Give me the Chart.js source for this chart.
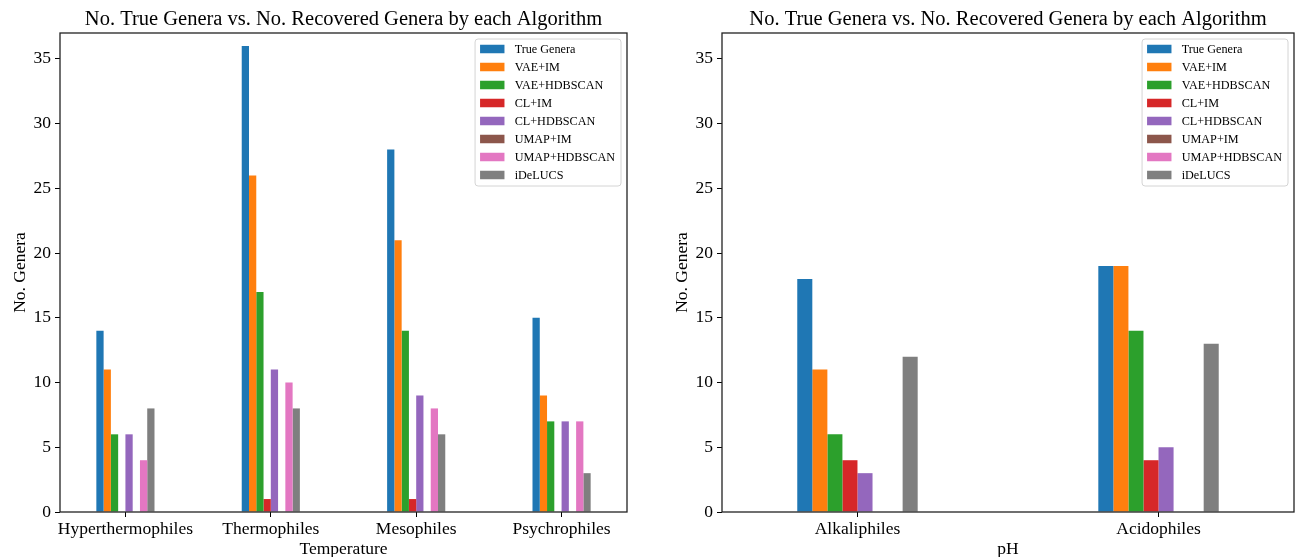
<!DOCTYPE html>
<html>
<head>
<meta charset="utf-8">
<script src="https://cdn.jsdelivr.net/npm/chart.js@4.4.1/dist/chart.umd.min.js"></script>
<style>
  html, body { margin: 0; padding: 0; background: #fff; overflow: hidden; }
  #wrap { position: relative; width: 1298px; height: 557px; }
  canvas { position: absolute; top: 0; }
  #tempChart { left: 0; }
  #phChart { left: 662px; }
</style>
</head>
<body>
<div id="wrap">
  <canvas id="tempChart" width="662" height="557"></canvas>
  <canvas id="phChart" width="636" height="557"></canvas>
</div>
<script>
// ---- data ----
const temperatureGroups = ['Hyperthermophiles', 'Thermophiles', 'Mesophiles', 'Psychrophiles'];
const phGroups = ['Alkaliphiles', 'Acidophiles'];
const methodNames = ['True Genera', 'VAE+IM', 'VAE+HDBSCAN', 'CL+IM', 'CL+HDBSCAN', 'UMAP+IM', 'UMAP+HDBSCAN', 'iDeLUCS'];
const genusTicks = [0, 5, 10, 15, 20, 25, 30, 35];

// genera counts per temperature group
const tempTrueGenera   = [14, 36, 28, 15];
const tempVaeIm        = [11, 26, 21, 9];
const tempVaeHdbscan   = [6, 17, 14, 7];
const tempClIm         = [0, 1, 1, 0];
const tempClHdbscan    = [6, 11, 9, 7];
const tempUmapIm       = [0, 0, 0, 0];
const tempUmapHdbscan  = [4, 10, 8, 7];
const tempIdelucs      = [8, 8, 6, 3];

// genera counts per pH group
const phTrueGenera     = [18, 19];
const phVaeIm          = [11, 19];
const phVaeHdbscan     = [6, 14];
const phClIm           = [4, 4];
const phClHdbscan      = [3, 5];
const phUmapIm         = [0, 0];
const phUmapHdbscan    = [0, 0];
const phIdelucs        = [12, 13];

// ---- styling ----
const palette = ['#1f77b4', '#ff7f0e', '#2ca02c', '#d62728', '#9467bd', '#8c564b', '#e377c2', '#7f7f7f'];
const FONT = '"Liberation Serif", "Times New Roman", serif';
Chart.defaults.font.family = FONT;
Chart.defaults.color = '#000';

// axes frame + title centred over the plot area
const frameAndTitle = {
  id: 'frameAndTitle',
  afterDatasetsDraw(chart, args, opts) {
    const { ctx, chartArea: a } = chart;
    ctx.save();
    ctx.strokeStyle = '#222';
    ctx.lineWidth = 1.3;
    ctx.strokeRect(a.left, a.top, a.right - a.left, a.bottom - a.top);
    ctx.font = '20.5px ' + FONT;
    ctx.fillStyle = '#000';
    ctx.textAlign = 'center';
    ctx.textBaseline = 'alphabetic';
    ctx.fillText(opts.text, (a.left + a.right) / 2, 25);
    ctx.restore();
  }
};

// boxed legend in the upper-right corner of the plot area
const innerLegend = {
  id: 'innerLegend',
  afterDraw(chart) {
    const { ctx, chartArea: a } = chart;
    const fs = 12.2;
    ctx.save();
    ctx.font = fs + 'px ' + FONT;
    const sets = chart.data.datasets;
    const tw = Math.max(...sets.map(d => ctx.measureText(d.label).width));
    const pad = 5, sw = 24.4, sh = 8.5, gap = 10.2, row = 18;
    const w = pad + sw + gap + tw + pad + 1;
    const h = 20 + row * (sets.length - 1) + 1;
    const x = a.right - 6 - w, y = a.top + 6;
    ctx.beginPath();
    ctx.roundRect(x, y, w, h, 3);
    ctx.fillStyle = 'rgba(255,255,255,0.8)';
    ctx.fill();
    ctx.strokeStyle = '#d4d4d4';
    ctx.lineWidth = 1;
    ctx.stroke();
    ctx.textAlign = 'left';
    ctx.textBaseline = 'middle';
    sets.forEach((d, i) => {
      const cy = y + 10 + i * row;
      ctx.fillStyle = d.backgroundColor;
      ctx.fillRect(x + pad, cy - sh / 2, sw, sh);
      ctx.fillStyle = '#000';
      ctx.fillText(d.label, x + pad + sw + gap, cy + 0.5);
    });
    ctx.restore();
  }
};

function buildChart(canvasId, groups, series, xTitle, rightPad) {
  const datasets = series.map((vals, k) => ({
    label: methodNames[k],
    data: vals.map((v, i) => ({ x: i, y: v })),
    backgroundColor: palette[k],
    borderWidth: 0,
    categoryPercentage: 0.4,
    barPercentage: 1.0
  }));
  return new Chart(document.getElementById(canvasId), {
    type: 'bar',
    data: { datasets },
    plugins: [frameAndTitle, innerLegend],
    options: {
      responsive: false,
      animation: false,
      devicePixelRatio: 1,
      layout: { padding: { top: 33, right: rightPad, bottom: 0, left: 0 } },
      plugins: {
        legend: { display: false },
        tooltip: { enabled: false },
        frameAndTitle: { text: 'No. True Genera vs. No. Recovered Genera by each Algorithm' }
      },
      scales: {
        x: {
          type: 'linear',
          bounds: 'data',
          offset: false,
          min: -0.45,
          max: groups.length - 1 + 0.45,
          afterBuildTicks: s => { s.ticks = groups.map((_, i) => ({ value: i })); },
          afterFit: s => { s.height = 45; },
          ticks: {
            callback: v => groups[v],
            font: { size: 17.5 },
            color: '#000',
            padding: 2,
            maxRotation: 0,
            autoSkip: false
          },
          grid: { offset: false, drawOnChartArea: false, drawTicks: true, tickLength: 5, tickColor: '#000', tickWidth: 1 },
          border: { display: false },
          title: { display: true, text: xTitle, font: { size: 17.5, lineHeight: 0.85 }, color: '#000', padding: { top: 0, bottom: 0 } }
        },
        y: {
          type: 'linear',
          bounds: 'data',
          min: 0,
          max: 37,
          afterBuildTicks: s => { s.ticks = genusTicks.map(v => ({ value: v })); },
          afterFit: s => { s.width = 60; },
          ticks: { font: { size: 17.5 }, color: '#000', padding: 4 },
          grid: { drawOnChartArea: false, drawTicks: true, tickLength: 5, tickColor: '#000', tickWidth: 1 },
          border: { display: false },
          title: { display: true, text: 'No. Genera', font: { size: 17.5 }, color: '#000', padding: { top: 10, bottom: 0 } }
        }
      }
    }
  });
}

buildChart('tempChart', temperatureGroups,
  [tempTrueGenera, tempVaeIm, tempVaeHdbscan, tempClIm, tempClHdbscan, tempUmapIm, tempUmapHdbscan, tempIdelucs],
  'Temperature', 35);

buildChart('phChart', phGroups,
  [phTrueGenera, phVaeIm, phVaeHdbscan, phClIm, phClHdbscan, phUmapIm, phUmapHdbscan, phIdelucs],
  'pH', 4);
</script>
</body>
</html>
